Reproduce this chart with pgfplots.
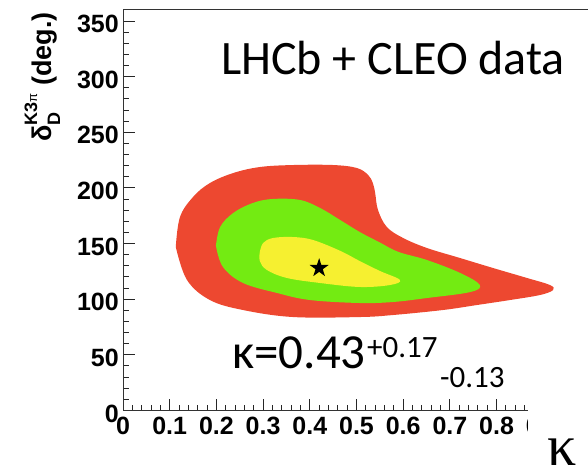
\documentclass[border=0pt]{standalone}
\usepackage{pgfplots}
\pgfplotsset{compat=1.18}
\usepackage{fontspec}
\setmainfont{Liberation Sans}
\newfontfamily\calibri{Carlito}
\newfontfamily\tnr{Liberation Serif}
\definecolor{cred}{RGB}{237,72,48}
\definecolor{cgreen}{RGB}{115,235,18}
\definecolor{cyellow}{RGB}{246,240,48}
\pgfdeclareplotmark{fstar}{%
 \pgfpathmoveto{\pgfqpointpolar{90}{10pt}}%
 \pgfpathlineto{\pgfqpointpolar{126}{3.8pt}}%
 \pgfpathlineto{\pgfqpointpolar{162}{10pt}}%
 \pgfpathlineto{\pgfqpointpolar{198}{3.8pt}}%
 \pgfpathlineto{\pgfqpointpolar{234}{10pt}}%
 \pgfpathlineto{\pgfqpointpolar{270}{3.8pt}}%
 \pgfpathlineto{\pgfqpointpolar{306}{10pt}}%
 \pgfpathlineto{\pgfqpointpolar{342}{3.8pt}}%
 \pgfpathlineto{\pgfqpointpolar{18}{10pt}}%
 \pgfpathlineto{\pgfqpointpolar{54}{3.8pt}}%
 \pgfpathclose\pgfusepathqfill}
\begin{document}
\begin{tikzpicture}
\begin{axis}[
  at={(123pt,56.5pt)}, anchor=south west,
  scale only axis, width=467pt, height=400.6pt,
  xmin=0, xmax=1, ymin=0, ymax=360,
  axis line style={line width=1pt, black!80},
  tick pos=left, tick align=inside,
  xtick={0,0.1,0.2,0.3,0.4,0.5,0.6,0.7,0.8,0.9,1},
  xticklabels={0,0.1,0.2,0.3,0.4,0.5,0.6,0.7,0.8,0.9,},
  ytick={0,50,100,150,200,250,300,350},
  yticklabels={0,50,100,150,200,250,300,350},
  minor x tick num=4, minor y tick num=4,
  major tick length=12pt, minor tick length=6pt,
  every tick/.style={black!85, line width=1pt},
  /pgf/number format/assume math mode=true,
  ticklabel style={font=\fontsize{25}{25}\selectfont\bfseries, inner sep=1pt},
  xticklabel style={yshift=-5pt},
  yticklabel style={xshift=-3pt, yshift=-3pt},
]
\addplot[fill=cred, draw=none, smooth, tension=0.6] coordinates {
 (0.113,147) (0.122,173.9) (0.150,191.9) (0.186,204.4) (0.236,213.4)
 (0.293,218.8) (0.364,220.6) (0.450,220.6) (0.501,217.9) (0.525,211.6)
 (0.535,204.4) (0.540,195.4) (0.546,180.2) (0.565,164.9) (0.600,155.0)
 (0.651,146.0) (0.722,137.0) (0.792,128.1) (0.865,119.1) (0.914,112.8)
 (0.921,108.3) (0.893,103.8) (0.829,99.3) (0.758,94.8) (0.685,90.3)
 (0.578,85.8) (0.507,84.0) (0.364,84.0) (0.257,90.3) (0.186,99.3)
 (0.137,117.3) (0.113,147)
};
\addplot[fill=cgreen, draw=none, smooth, tension=0.6] coordinates {
 (0.199,148) (0.208,164.9) (0.236,177.5) (0.278,186.5) (0.321,190.1)
 (0.379,189.2) (0.422,182.0) (0.465,171.2) (0.507,160.4) (0.550,151.0)
 (0.590,142.5) (0.651,135.2) (0.722,123.6) (0.764,112.8) (0.743,106.4)
 (0.651,101.1) (0.578,97.5) (0.507,96.6) (0.400,99.3) (0.330,105.6)
 (0.257,114.6) (0.214,129.0) (0.199,148)
};
\addplot[fill=cyellow, draw=none, smooth, tension=0.6] coordinates {
 (0.293,142.4) (0.300,150.5) (0.321,155.0) (0.364,155.9) (0.407,153.2)
 (0.465,143.5) (0.507,134.3) (0.550,125.4) (0.593,117.3) (0.572,112.8)
 (0.507,111.0) (0.422,114.6) (0.351,119.1) (0.308,126.3) (0.293,134.3)
 (0.293,142.4)
};
\addplot[only marks, mark=fstar, black] coordinates {(0.42,128)};
\end{axis}
\fill[white] (528pt,-2pt) rectangle (600pt,70pt);
\node[rotate=90, anchor=base east, inner sep=0pt, font=\fontsize{27}{27}\selectfont\bfseries] at (51pt,455pt)
 {δ\rlap{\raisebox{-9pt}{\fontsize{18}{18}\selectfont D}}\raisebox{14pt}{\fontsize{18}{18}\selectfont K3{\fontsize{13}{13}\selectfont\mdseries π}}\ (deg.)};
\node[anchor=base west, inner sep=0pt, font=\calibri\fontsize{48}{48}\selectfont] at (221pt,392pt) {LHCb + CLEO data};
\node[anchor=base west, inner sep=0pt, font=\calibri\fontsize{49}{49}\selectfont] at (232pt,99pt) {κ=0.43};
\node[anchor=base west, inner sep=0pt, font=\calibri\fontsize{31}{31}\selectfont] at (367pt,110pt) {+0.17};
\node[anchor=base west, inner sep=0pt, font=\calibri\fontsize{31}{31}\selectfont] at (440pt,80pt) {-0.13};
\node[anchor=base west, inner sep=0pt, font=\tnr\fontsize{58}{58}\selectfont] at (547pt,2pt) {κ};
\pgfresetboundingbox
\useasboundingbox (0,0) rectangle (588pt,467pt);
\end{tikzpicture}
\end{document}
